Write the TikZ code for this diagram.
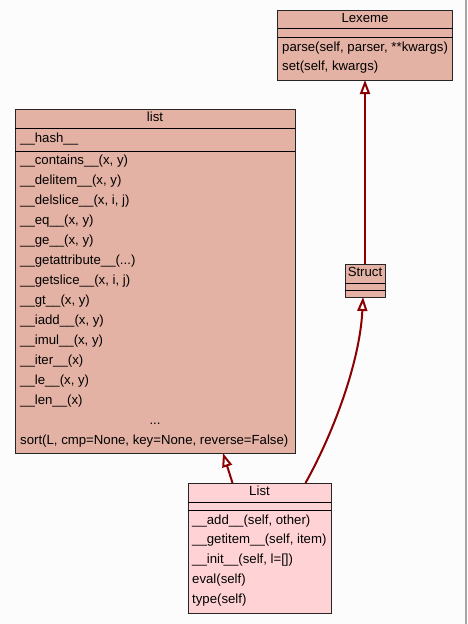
\documentclass[tikz,border=0pt]{standalone}
\usepackage{fontspec}
\setmainfont{Liberation Sans}
\usetikzlibrary{arrows.meta,calc}
\definecolor{boxsalmon}{RGB}{228,178,164}
\definecolor{boxpink}{RGB}{255,211,214}
\definecolor{edgered}{RGB}{139,0,0}
\definecolor{bgwhite}{RGB}{252,252,252}
\newcommand\tridots{...}

\begin{document}
\begin{tikzpicture}[x=1pt,y=-1pt,
  classbox/.style={draw=black!85,line width=1pt,fill=boxsalmon,inner sep=0pt,outer sep=0pt},
  member/.style={anchor=west,inner sep=0pt,text height=10pt,text depth=3pt,font=\fontsize{13.2}{15}\selectfont},
  classname/.style={member,anchor=center},
  inherit/.style={draw=edgered,line width=2pt,-{Triangle[length=14pt,width=10pt,fill=white]}}]
  \useasboundingbox (0,0) rectangle (467,624);
  \fill[bgwhite] (0,0) rectangle (467,624);
  \draw[gray!70,line width=1.5pt] (466,0) -- (466,624);
  % Lexeme
  \node[classbox,minimum width=175pt,minimum height=70pt] (lexeme) at (365,45) {};
  \draw[line width=1pt] ([yshift=-18pt]lexeme.north west) -- ([yshift=-18pt]lexeme.north east);
  \draw[line width=1pt] ([yshift=-27pt]lexeme.north west) -- ([yshift=-27pt]lexeme.north east);
  \node[classname] (lexname) at (365,19) {Lexeme};
  \node[member] (lexparse) at (282,48) {parse(self, parser, **kwargs)};
  \node[member] (lexset) at (282,67) {set(self, kwargs)};
  % list
  \node[classbox,minimum width=280pt,minimum height=344pt] (pylist) at (155,281) {};
  \draw[line width=1pt] ([yshift=-19pt]pylist.north west) -- ([yshift=-19pt]pylist.north east);
  \draw[line width=1pt] ([yshift=-42pt]pylist.north west) -- ([yshift=-42pt]pylist.north east);
  \node[classname] (listname) at (155,118) {list};
  \node[member] (listhash) at (20,139) {\_\_hash\_\_};
  \foreach \m [count=\k from 0] in {{\_\_contains\_\_(x, y)},{\_\_delitem\_\_(x, y)},
      {\_\_delslice\_\_(x, i, j)},{\_\_eq\_\_(x, y)},{\_\_ge\_\_(x, y)},
      {\_\_getattribute\_\_(\tridots)},{\_\_getslice\_\_(x, i, j)},{\_\_gt\_\_(x, y)},
      {\_\_iadd\_\_(x, y)},{\_\_imul\_\_(x, y)},{\_\_iter\_\_(x)},{\_\_le\_\_(x, y)},
      {\_\_len\_\_(x)}}
    \node[member] (listm\k) at (20,161+20*\k) {\m};
  \node[classname] (listdots) at (155,421) {\tridots};
  \node[member] (listsort) at (20,441) {sort(L, cmp=None, key=None, reverse=False)};
  % Struct
  \node[classbox,minimum width=40pt,minimum height=33pt] (struct) at (365,280.5) {};
  \draw[line width=1pt] ([yshift=-19pt]struct.north west) -- ([yshift=-19pt]struct.north east);
  \draw[line width=1pt] ([yshift=-26pt]struct.north west) -- ([yshift=-26pt]struct.north east);
  \node[classname] (structname) at (365,273) {Struct};
  % List
  \node[classbox,fill=boxpink,minimum width=143pt,minimum height=130pt] (listcls) at (259.5,548) {};
  \draw[line width=1pt] ([yshift=-19pt]listcls.north west) -- ([yshift=-19pt]listcls.north east);
  \draw[line width=1pt] ([yshift=-27pt]listcls.north west) -- ([yshift=-27pt]listcls.north east);
  \node[classname] (Listname) at (259.5,492) {List};
  \node[member] (Listadd) at (192,521) {\_\_add\_\_(self, other)};
  \node[member] (Listgetitem) at (192,540) {\_\_getitem\_\_(self, item)};
  \node[member] (Listinit) at (192,560) {\_\_init\_\_(self, l=[])};
  \node[member] (Listeval) at (192,580) {eval(self)};
  \node[member] (Listtype) at (192,600) {type(self)};
  % inheritance
  \draw[inherit] (struct.north) -- (lexeme.south);
  \draw[inherit] ([xshift=-27pt]listcls.north) -- ([xshift=68pt]pylist.south);
  \draw[inherit] ([xshift=46pt]listcls.north) .. controls (335,430) and (360,360) .. ([xshift=-2pt]struct.south);
\end{tikzpicture}
\end{document}
